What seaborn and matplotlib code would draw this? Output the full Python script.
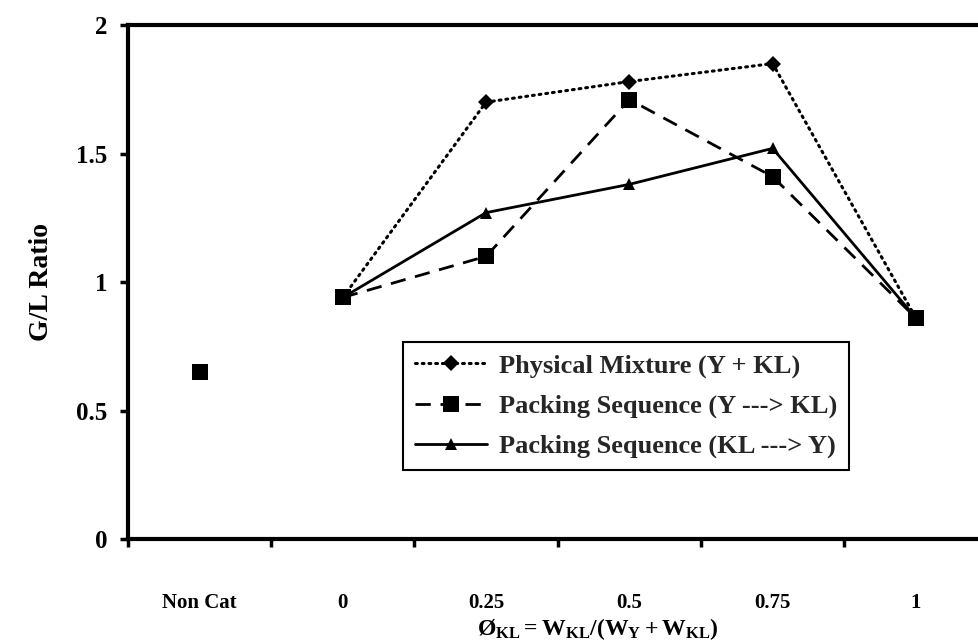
import numpy as np
import pandas as pd
import matplotlib
matplotlib.use("Agg")
import matplotlib.pyplot as plt
import seaborn as sns

# Catalyst fraction categories and G/L ratios
categories = ["Non Cat", "0", "0.25", "0.5", "0.75", "1"]
physical_mixture = [np.nan, 0.94, 1.70, 1.78, 1.85, 0.86]
packing_y_kl = [np.nan, 0.94, 1.10, 1.71, 1.41, 0.86]
packing_kl_y = [np.nan, 0.94, 1.27, 1.38, 1.52, 0.86]
non_cat_ratio = [0.65, np.nan, np.nan, np.nan, np.nan, np.nan]

series_labels = [
    "Physical Mixture (Y + KL)",
    "Packing Sequence (Y ---> KL)",
    "Packing Sequence (KL ---> Y)",
]

sns.set_theme(style="white")
plt.rcParams["font.family"] = ["Liberation Serif", "DejaVu Serif"]
plt.rcParams["font.weight"] = "bold"
plt.rcParams["mathtext.fontset"] = "custom"
plt.rcParams["mathtext.rm"] = "Liberation Serif:bold"
plt.rcParams["mathtext.bf"] = "Liberation Serif:bold"
plt.rcParams["mathtext.it"] = "Liberation Serif:bold"

pos = np.arange(len(categories))
df = pd.DataFrame({
    "pos": pos,
    "physical": physical_mixture,
    "y_kl": packing_y_kl,
    "kl_y": packing_kl_y,
    "noncat": non_cat_ratio,
})

fig = plt.figure(figsize=(9.79, 6.43), dpi=100)
ax = fig.add_axes([0.1307, 0.1617, 0.878, 0.7994])

sns.lineplot(data=df, x="pos", y="physical", ax=ax, color="black",
             linestyle=(0, (0.6, 1.6)), dash_capstyle="round", linewidth=2.2,
             marker="D", markersize=8, markeredgewidth=0, label=series_labels[0])
sns.lineplot(data=df, x="pos", y="y_kl", ax=ax, color="black",
             linestyle=(0, (5.5, 3.5)), linewidth=2.0,
             marker="s", markersize=11, markeredgewidth=0, label=series_labels[1])
sns.lineplot(data=df, x="pos", y="kl_y", ax=ax, color="black",
             linestyle="-", linewidth=2.0,
             marker="^", markersize=8, markeredgewidth=0, label=series_labels[2])
sns.scatterplot(data=df, x="pos", y="noncat", ax=ax, color="black",
                marker="s", s=120, linewidth=0, legend=False)

ax.set_xlim(-0.5, len(categories) - 0.5)
ax.set_ylim(0, 2)
ax.set_yticks([0, 0.5, 1, 1.5, 2])
ax.set_yticklabels(["0", "0.5", "1", "1.5", "2"])

# Category axis: boundary ticks, labels centred in each category
ax.set_xticks(np.arange(-0.5, len(categories), 1))
ax.set_xticklabels([])
ax.set_xticks(pos, minor=True)
ax.set_xticklabels(categories, minor=True)
ax.tick_params(axis="x", which="major", direction="out", length=6, width=2.5,
               color="black", bottom=True)
ax.tick_params(axis="x", which="minor", length=0, pad=39, labelsize=15,
               labelcolor="black")
ax.tick_params(axis="y", direction="out", length=6, width=2.5, color="black",
               left=True, pad=9, labelsize=18, labelcolor="black")
for lbl in ax.get_xticklabels(minor=True) + ax.get_yticklabels():
    lbl.set_fontweight("bold")

for side in ["left", "bottom", "top", "right"]:
    ax.spines[side].set_visible(True)
    ax.spines[side].set_color("black")
    ax.spines[side].set_linewidth(3)

ax.set_ylabel("G/L Ratio", fontsize=20, fontweight="bold", color="black")
ax.yaxis.set_label_coords(-0.0855, 0.5)
ax.set_xlabel(r"$\mathbf{Ø_{KL} = W_{KL}/(W_Y + W_{KL})}$", fontsize=17,
              color="black")
ax.xaxis.set_label_coords(0.547, -0.150)

leg = ax.legend(loc="upper left", bbox_to_anchor=(0.32, 0.383), borderaxespad=0,
                frameon=True, fancybox=False, edgecolor="black", framealpha=1,
                prop={"family": "Liberation Serif", "weight": "bold", "size": 19},
                handlelength=2.75, handletextpad=0.45, labelspacing=0.62,
                borderpad=0.45)
leg.get_frame().set_linewidth(1.5)

fig.savefig("out.png", dpi=100, facecolor="white")
